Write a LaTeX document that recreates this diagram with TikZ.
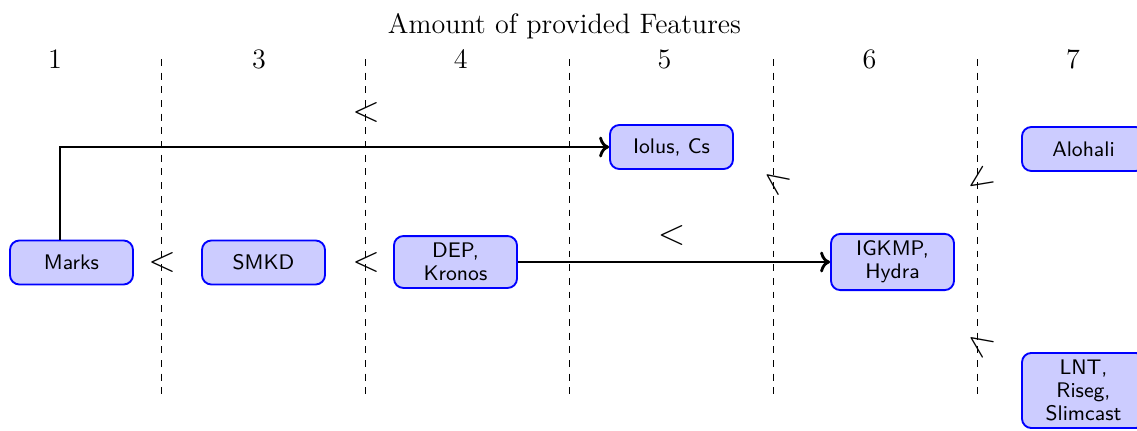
\documentclass[tikz,border=0pt]{standalone}
\usepackage{graphicx}
\usetikzlibrary{arrows.meta}

\tikzset{
  feat/.style={draw=blue, fill=blue!20, thick, rounded corners=4pt,
    minimum width=1.845cm, minimum height=0.66cm, inner sep=3pt,
    align=center, font=\sffamily\fontsize{9}{9.8}\selectfont},
  colhead/.style={anchor=base, font=\large},
  sep/.style={thin, dash pattern=on 2.92pt off 2.92pt},
  cmp/.style={inner sep=0pt, font=\Large},
  link/.style={->, very thick}
}

\begin{document}
\begin{tikzpicture}[x=0.015cm, y=-0.015cm]
  \clip (0,0) rectangle (1137,430);

  % title and column numbers
  \node[anchor=base, font=\large] (title) at (564.5,33.3) {Amount of provided Features};
  \node[colhead] (c1) at (55,68.3) {1};
  \node[colhead] (c3) at (259,68.3) {3};
  \node[colhead] (c4) at (460.7,68.3) {4};
  \node[colhead] (c5) at (664.5,68.3) {5};
  \node[colhead] (c6) at (869.5,68.3) {6};
  \node[colhead] (c7) at (1073,68.3) {7};

  % column separators
  \foreach \x [count=\i] in {161.7,365,569,773,977} {
    \coordinate (s\i t) at (\x,59);
    \coordinate (s\i b) at (\x,395);
    \draw[sep] (s\i t) -- (s\i b);
  }

  % protocols
  \node[feat] (marks) at (71.5,262.5) {Marks};
  \node[feat] (smkd) at (263.5,262.5) {SMKD};
  \node[feat] (dep) at (455.5,262) {DEP,\\Kronos};
  \node[feat] (iolus) at (671.5,147) {Iolus, Cs};
  \node[feat] (igkmp) at (892.5,262) {IGKMP,\\Hydra};
  \node[feat] (alohali) at (1083.5,149) {Alohali};
  \node[feat, anchor=north] (lnt) at (1083.5,352) {LNT,\\Riseg,\\Slimcast};

  % comparison marks
  \node[cmp] (r1) at (162,262.3) {\scalebox{1.07}{$<$}};
  \node[cmp] (r2) at (366,262.3) {\scalebox{1.07}{$<$}};
  \node[cmp] (r3) at (366,112.7) {\scalebox{1.07}{$<$}};
  \node[cmp] (r4) at (671.7,235) {\scalebox{1.07}{$<$}};
  \node[cmp, rotate=-36] (r5) at (776,180.8) {\scalebox{1.07}{$<$}};
  \node[cmp, rotate=34] (r6) at (980,180.6) {\scalebox{1.07}{$<$}};
  \node[cmp, rotate=-35] (r7) at (980,343.6) {\scalebox{1.07}{$<$}};

  % connectors
  \coordinate (bend) at (60,147);
  \draw[link] (marks.north -| bend) |- (iolus.west);
  \draw[link] (dep.east) -- (igkmp.west);
\end{tikzpicture}
\end{document}
